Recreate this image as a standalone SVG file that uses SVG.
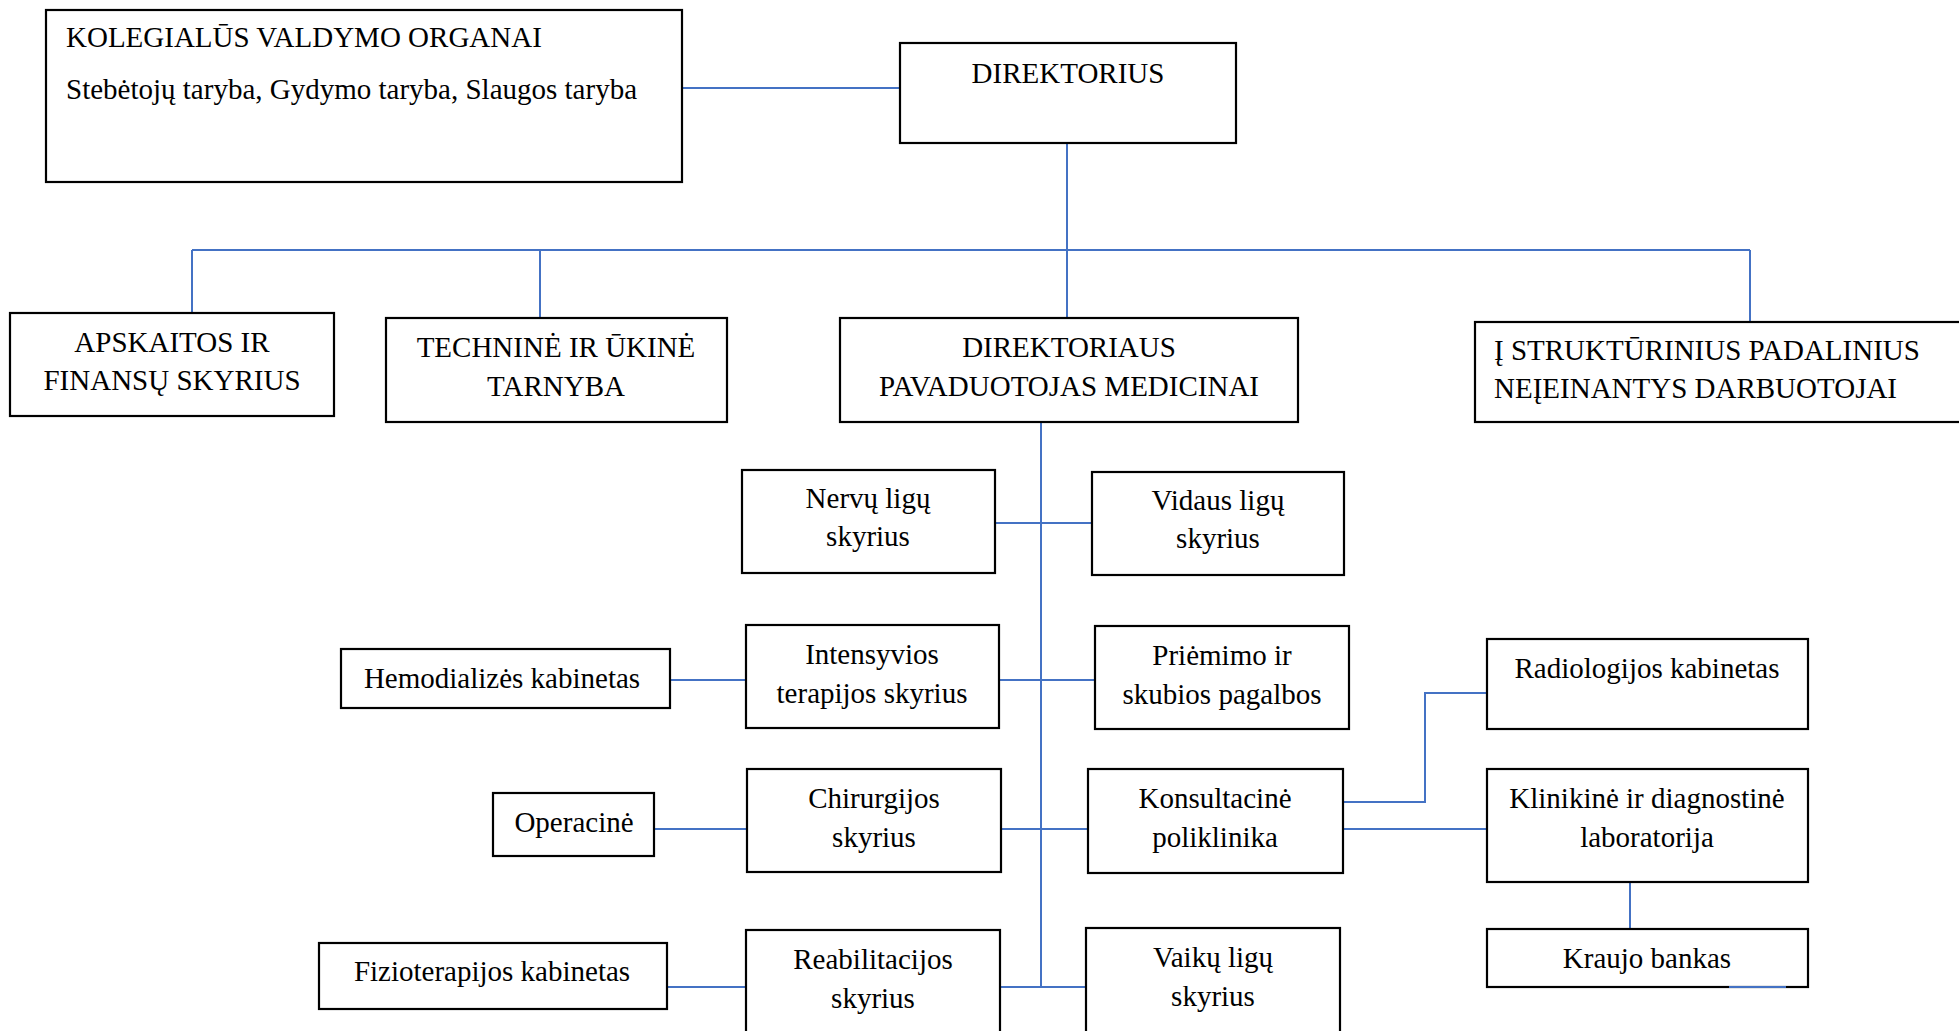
<svg xmlns="http://www.w3.org/2000/svg" width="1959" height="1031" viewBox="0 0 1959 1031">
<style>
.box{fill:#fff;stroke:#000;stroke-width:2.2}
.t{font-family:"Liberation Serif","Times New Roman",serif;font-size:29px;fill:#000}
.c{text-anchor:middle}
.conn{fill:none;stroke:#4472C4;stroke-width:2}
</style>
<rect width="1959" height="1031" fill="#fff"/>
<g id="connectors">
<path class="conn" d="M682,88H900"/>
<path class="conn" d="M1067,143V318"/>
<path class="conn" d="M192,250H1750"/>
<path class="conn" d="M192,250V313"/>
<path class="conn" d="M540,250V318"/>
<path class="conn" d="M1750,250V322"/>
<path class="conn" d="M1041,422V987"/>
<path class="conn" d="M995,523H1092"/>
<path class="conn" d="M670,680H746"/>
<path class="conn" d="M999,680H1095"/>
<path class="conn" d="M654,829H747"/>
<path class="conn" d="M1001,829H1088"/>
<path class="conn" d="M1343,829H1487"/>
<path class="conn" d="M1343,802H1425V693H1487"/>
<path class="conn" d="M1630,882V929"/>
<path class="conn" d="M667,987H746"/>
<path class="conn" d="M1000,987H1086"/>
</g>
<g id="kolegialus">
<rect class="box" x="46" y="10" width="636" height="172"/>
<text class="t" x="66" y="47">KOLEGIALŪS VALDYMO ORGANAI</text>
<text class="t" x="66" y="99">Stebėtojų taryba, Gydymo taryba, Slaugos taryba</text>
</g>
<g id="direktorius">
<rect class="box" x="900" y="43" width="336" height="100"/>
<text class="t c" x="1068" y="83">DIREKTORIUS</text>
</g>
<g id="apskaitos">
<rect class="box" x="10" y="313" width="324" height="103"/>
<text class="t c" x="172" y="352">APSKAITOS IR</text>
<text class="t c" x="172" y="390">FINANSŲ SKYRIUS</text>
</g>
<g id="technine">
<rect class="box" x="386" y="318" width="341" height="104"/>
<text class="t c" x="556" y="357">TECHNINĖ IR ŪKINĖ</text>
<text class="t c" x="556" y="396">TARNYBA</text>
</g>
<g id="pavaduotojas">
<rect class="box" x="840" y="318" width="458" height="104"/>
<text class="t c" x="1069" y="357">DIREKTORIAUS</text>
<text class="t c" x="1069" y="396">PAVADUOTOJAS MEDICINAI</text>
</g>
<g id="nepadaliniai">
<rect class="box" x="1475" y="322" width="540" height="100"/>
<text class="t" x="1494" y="360">Į STRUKTŪRINIUS PADALINIUS</text>
<text class="t" x="1494" y="398">NEĮEINANTYS DARBUOTOJAI</text>
</g>
<g id="nervu">
<rect class="box" x="742" y="470" width="253" height="103"/>
<text class="t c" x="868" y="508">Nervų ligų</text>
<text class="t c" x="868" y="546">skyrius</text>
</g>
<g id="vidaus">
<rect class="box" x="1092" y="472" width="252" height="103"/>
<text class="t c" x="1218" y="510">Vidaus ligų</text>
<text class="t c" x="1218" y="548">skyrius</text>
</g>
<g id="hemodializes">
<rect class="box" x="341" y="649" width="329" height="59"/>
<text class="t c" x="502" y="688">Hemodializės kabinetas</text>
</g>
<g id="intensyvios">
<rect class="box" x="746" y="625" width="253" height="103"/>
<text class="t c" x="872" y="664">Intensyvios</text>
<text class="t c" x="872" y="703">terapijos skyrius</text>
</g>
<g id="priemimo">
<rect class="box" x="1095" y="626" width="254" height="103"/>
<text class="t c" x="1222" y="665">Priėmimo ir</text>
<text class="t c" x="1222" y="704">skubios pagalbos</text>
</g>
<g id="radiologijos">
<rect class="box" x="1487" y="639" width="321" height="90"/>
<text class="t c" x="1647" y="678">Radiologijos kabinetas</text>
</g>
<g id="operacine">
<rect class="box" x="493" y="793" width="161" height="63"/>
<text class="t c" x="574" y="832">Operacinė</text>
</g>
<g id="chirurgijos">
<rect class="box" x="747" y="769" width="254" height="103"/>
<text class="t c" x="874" y="808">Chirurgijos</text>
<text class="t c" x="874" y="847">skyrius</text>
</g>
<g id="konsultacine">
<rect class="box" x="1088" y="769" width="255" height="104"/>
<text class="t c" x="1215" y="808">Konsultacinė</text>
<text class="t c" x="1215" y="847">poliklinika</text>
</g>
<g id="klinikine">
<rect class="box" x="1487" y="769" width="321" height="113"/>
<text class="t c" x="1647" y="808">Klinikinė ir diagnostinė</text>
<text class="t c" x="1647" y="847">laboratorija</text>
</g>
<g id="kraujo">
<rect class="box" x="1487" y="929" width="321" height="58"/>
<text class="t c" x="1647" y="968">Kraujo bankas</text>
</g>
<g id="fizioterapijos">
<rect class="box" x="319" y="943" width="348" height="66"/>
<text class="t c" x="492" y="981">Fizioterapijos kabinetas</text>
</g>
<g id="reabilitacijos">
<rect class="box" x="746" y="930" width="254" height="130"/>
<text class="t c" x="873" y="969">Reabilitacijos</text>
<text class="t c" x="873" y="1008">skyrius</text>
</g>
<g id="vaiku">
<rect class="box" x="1086" y="928" width="254" height="130"/>
<text class="t c" x="1213" y="967">Vaikų ligų</text>
<text class="t c" x="1213" y="1006">skyrius</text>
</g>
<g id="connector-overlay">
<path class="conn" d="M1729,987H1786" stroke-width="2.4"/>
</g>
</svg>
